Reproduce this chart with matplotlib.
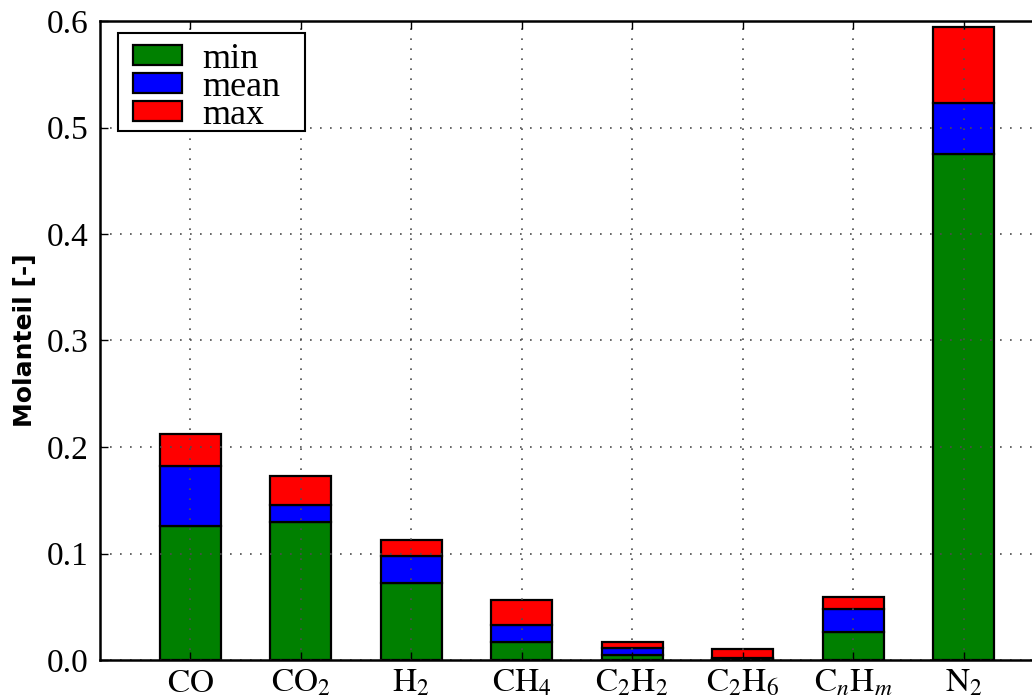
import numpy as np
import matplotlib
matplotlib.use("Agg")
import matplotlib.pyplot as plt
from matplotlib.patches import Rectangle

plt.rcParams["font.family"] = ["Liberation Serif", "DejaVu Serif"]
plt.rcParams["mathtext.fontset"] = "stix"

# Gas components and their molar fractions
species = ["CO", "CO2", "H2", "CH4", "C2H2", "C2H6", "CnHm", "N2"]
tick_labels = [r"$\mathrm{CO}$", r"$\mathrm{CO_2}$", r"$\mathrm{H_2}$", r"$\mathrm{CH_4}$",
               r"$\mathrm{C_2H_2}$", r"$\mathrm{C_2H_6}$", r"$\mathrm{C}_n\mathrm{H}_m$",
               r"$\mathrm{N_2}$"]
y_min = [0.126, 0.130, 0.072, 0.0166, 0.0044, 0.0010, 0.0266, 0.475]
y_mean = [0.182, 0.1455, 0.0977, 0.033, 0.0116, 0.0020, 0.0476, 0.523]
y_max = [0.212, 0.1728, 0.1127, 0.056, 0.0166, 0.0105, 0.0589, 0.594]

x = np.arange(len(species))
width = 0.55
y_min = np.array(y_min)
y_mean = np.array(y_mean)
y_max = np.array(y_max)

fig = plt.figure(figsize=(10.32, 6.97), dpi=100)
W, H = 1032.0, 697.0
left_px, top_px, bottom_px = 100.0, 21.0, 660.0
unit_px = 110.5
xlo, xhi = -0.817, 8.4
ax_w_px = (xhi - xlo) * unit_px
ax_h_px = bottom_px - top_px
ax = fig.add_axes([left_px / W, (H - bottom_px) / H, ax_w_px / W, ax_h_px / H])

edge = dict(edgecolor="black", linewidth=1.6)
ax.bar(x, y_min, width, color="#008000", label="min", zorder=2, **edge)
ax.bar(x, y_mean - y_min, width, bottom=y_min, color="#0000ff", label="mean", zorder=2, **edge)
ax.bar(x, y_max - y_mean, width, bottom=y_mean, color="#ff0000", label="max", zorder=2, **edge)

ax.set_xlim(xlo, xhi)
ax.set_ylim(0, 0.6)
ax.set_xticks(x)
ax.set_xticklabels(tick_labels)
ax.set_yticks(np.arange(0, 0.61, 0.1))
ax.set_yticklabels([f"{v:.1f}" for v in np.arange(0, 0.61, 0.1)])

ax.tick_params(axis="both", direction="in", labelsize=24, length=6, width=1,
               top=True, right=True)
ax.tick_params(axis="y", pad=8)
ax.tick_params(axis="x", pad=6)

ax.grid(True, color="0.3", linestyle=(0, (1, 5)), linewidth=1.2, zorder=3)
ax.set_axisbelow(False)
for s in ax.spines.values():
    s.set_linewidth(1.8)
    s.set_zorder(4)

ax.set_ylabel("Molanteil [-]", family="DejaVu Sans", fontsize=18,
              fontweight="bold", labelpad=7)


def px_to_axes(px, py):
    return (px - left_px) / ax_w_px, 1 - (py - top_px) / ax_h_px


# Legend entries without their own frame, boxed by a separate rectangle
anchor = px_to_axes(133, 43)
leg = ax.legend(loc="upper left", bbox_to_anchor=anchor, fontsize=26,
                frameon=False, borderpad=0.0, borderaxespad=0.0,
                labelspacing=-0.14, handlelength=1.37, handleheight=0.5,
                handletextpad=0.55)
leg.set_zorder(6)

x0, y0 = px_to_axes(118, 131)
x1, y1 = px_to_axes(305, 33)
box = Rectangle((x0, y0), x1 - x0, y1 - y0, transform=ax.transAxes,
                facecolor="white", edgecolor="black", linewidth=1.5, zorder=5)
ax.add_patch(box)

fig.savefig("out.png", dpi=100)
